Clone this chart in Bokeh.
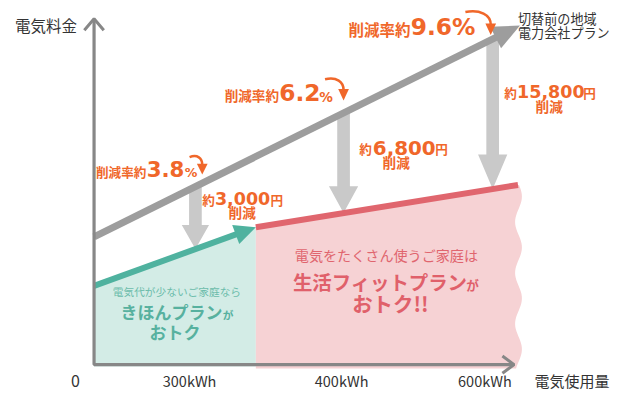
import numpy as np
from bokeh.plotting import figure
from bokeh.models import Range1d
from bokeh.core.properties import value
from bokeh.embed import file_html
from bokeh.resources import INLINE

# ---- schematic data (chart units: x = usage, y = fee) ----
before_x = [0, 437]          # 切替前の地域電力会社プラン
before_y = [133, 353]
kihon_x = [0, 166]           # きほんプラン
kihon_y = [82, 143]
fit_x = [166, 435]           # 生活フィットプラン
fit_y = [143, 187]
saving_x = [104, 256, 409]
saving_amounts = ["3,000", "6,800", "15,800"]
saving_rates = ["3.8", "6.2", "9.6"]
usage_ticks = ["0", "300kWh", "400kWh", "600kWh"]
usage_tick_x = [-19, 98, 254, 401]

JP = "Noto Sans CJK JP"
NUM = "DejaVu Sans"
ORANGE = "#f0672a"
GRAY_LINE = "#9d9d9d"
AXIS = "#878787"
LIGHT = "#c9c9c9"
TEAL = "#4fb29f"
TEAL_FILL = "#d3ece6"
RED = "#e0666e"
PINK_FILL = "#f6d2d4"
DARK = "#333333"

p = figure(width=614, height=391, output_backend="svg", toolbar_location=None,
           x_range=Range1d(-96, 534), y_range=Range1d(-28, 379), min_border=0)
p.axis.visible = False
p.grid.visible = False
p.outline_line_color = None
p.background_fill_color = "white"

def X(px):
    return px - 96

def Y(py):
    return 379 - py

# ---- fills ----
p.patch([kihon_x[0]] + kihon_x + [kihon_x[-1]], [-2] + kihon_y + [-2],
        fill_color=TEAL_FILL, line_color=None)
wave_y = np.linspace(fit_y[-1], -4, 80)
wave_x = fit_x[-1] + 0.5 + 3.5 * np.cos(2 * np.pi * ((379 - wave_y) - 257) / 53)
p.patch(list(fit_x) + list(wave_x) + [fit_x[0]],
        list(fit_y) + list(wave_y) + [-4],
        fill_color=PINK_FILL, line_color=None)

# ---- saving arrows (down) ----
tops = np.interp(saving_x, before_x, before_y)
tips = [np.interp(saving_x[0], kihon_x, kihon_y),
        np.interp(saving_x[1], fit_x, fit_y),
        np.interp(saving_x[2], fit_x, fit_y)]
head_len = [25, 28, 36]
head_hw = [14, 15, 15]
shaft_hw = 6.5
xs, ys = [], []
for x0, t, b, hl, hw in zip(saving_x, tops, tips, head_len, head_hw):
    xs.append([x0 - shaft_hw, x0 + shaft_hw, x0 + shaft_hw, x0 + hw, x0, x0 - hw, x0 - shaft_hw])
    ys.append([t, t, b + hl, b + hl, b, b + hl, b + hl])
p.patches(xs, ys, fill_color=LIGHT, line_color=None)

# ---- plan lines with arrowheads ----
def arrow_line(lx, ly, color, width, hl, hw):
    dx, dy = lx[-1] - lx[0], ly[-1] - ly[0]
    L = np.hypot(dx, dy)
    ux, uy = dx / L, dy / L
    bx, by = lx[-1] - hl * ux, ly[-1] - hl * uy
    p.line([lx[0], bx + ux], [ly[0], by + uy], line_color=color, line_width=width)
    p.patch([bx - hw * uy, lx[-1], bx + hw * uy], [by + hw * ux, ly[-1], by - hw * ux],
            fill_color=color, line_color=None)

arrow_line(before_x, before_y, GRAY_LINE, 7, 28, 12.5)
arrow_line(kihon_x, kihon_y, TEAL, 6, 22, 10.5)
p.line(fit_x, fit_y, line_color=RED, line_width=6)

# ---- axes ----
p.line([0, 0, 429], [359, 0, 0], line_color=AXIS, line_width=3.2)
p.line([-10, 0, 10], [348, 360, 348], line_color=AXIS, line_width=3)
p.line([419, 431, 419], [9, 0, -9], line_color=AXIS, line_width=3)

# ---- text helper (positions given in reference pixels) ----
def txt(px, py, s, size, color, bold=False, align="left", font=JP):
    p.text(x=[X(px)], y=[Y(py)], text=[s], text_font=value(font),
           text_font_size=f"{size * 0.97:.1f}px", text_color=color,
           text_font_style="bold" if bold else "normal",
           text_align=align, text_baseline="middle")

# axis labels
txt(15, 25, "電気料金", 16, DARK)
txt(548, 396, "電気使用量", 15.5, DARK)
for lab, tx in zip(usage_ticks, usage_tick_x):
    txt(tx + 96, 396, lab, 16.5 if lab == "0" else 15, DARK, align="center")

# plan label
txt(531, 19, "切替前の地域", 13.5, DARK)
txt(531, 33, "電力会社プラン", 13.5, DARK)

# reduction rates
txt(98, 177.5, "削減率約", 13, ORANGE, bold=True)
txt(150, 175, saving_rates[0], 22, ORANGE, bold=True, font=NUM)
txt(189, 179.5, "%", 13, ORANGE, bold=True, font=NUM)
txt(230, 98.5, "削減率約", 14, ORANGE, bold=True)
txt(286, 96, saving_rates[1], 24, ORANGE, bold=True, font=NUM)
txt(327, 100.5, "%", 14, ORANGE, bold=True, font=NUM)
txt(357, 29.5, "削減率約", 16, ORANGE, bold=True)
txt(421, 27, saving_rates[2] + "%", 24, ORANGE, bold=True, font=NUM)

# small curved arrows
curves = [((194, 163), (202, 160), (207, 164), (207, 171), (207, 181)),
          ((333, 82), (345, 79), (352, 85), (352, 93), (352, 104)),
          ((477, 12), (492, 9), (503, 15), (503, 25), (503, 36))]
for s0, c0, c1, e0, tip in curves:
    p.bezier(x0=[X(s0[0])], y0=[Y(s0[1])], x1=[X(e0[0])], y1=[Y(e0[1])],
             cx0=[X(c0[0])], cy0=[Y(c0[1])], cx1=[X(c1[0])], cy1=[Y(c1[1])],
             line_color=ORANGE, line_width=2.5)
    p.patch([X(tip[0] - 5.5), X(tip[0] + 5.5), X(tip[0])],
            [Y(e0[1] - 1), Y(e0[1] - 1), Y(tip[1])], fill_color=ORANGE, line_color=None)

# savings amounts
txt(207, 207.5, "約", 13, ORANGE, bold=True)
txt(220, 206.5, saving_amounts[0], 18, ORANGE, bold=True, font=NUM)
txt(277, 207.5, "円", 13, ORANGE, bold=True)
txt(248, 220, "削減", 14, ORANGE, bold=True, align="center")
txt(368, 154.5, "約", 13, ORANGE, bold=True)
txt(382, 153.5, saving_amounts[1], 20.5, ORANGE, bold=True, font=NUM)
txt(446, 154.5, "円", 13, ORANGE, bold=True)
txt(406, 168, "削減", 14, ORANGE, bold=True, align="center")
txt(517, 96, "約", 13, ORANGE, bold=True)
txt(530, 95, saving_amounts[2], 18, ORANGE, bold=True, font=NUM)
txt(598, 96, "円", 13, ORANGE, bold=True)
txt(563, 109.5, "削減", 14, ORANGE, bold=True, align="center")

# region texts
txt(181, 303, "電気代が少ないご家庭なら", 11, "#6cbcab", align="center")
txt(123, 323.5, "きほんプラン", 17.5, "#57b19f", bold=True)
txt(228, 327, "が", 11, "#57b19f", bold=True)
txt(179, 345, "おトク", 17.5, "#57b19f", bold=True, align="center")

txt(396, 265, "電気をたくさん使うご家庭は", 14.5, "#e0656e", align="center")
txt(300, 292.5, "生活フィットプラン", 20, "#e0606a", bold=True)
txt(478, 296, "が", 13, "#e0606a", bold=True)
txt(400, 315, "おトク!!", 21, "#e0606a", bold=True, align="center")

open("out.html", "w").write(file_html(p, INLINE))
